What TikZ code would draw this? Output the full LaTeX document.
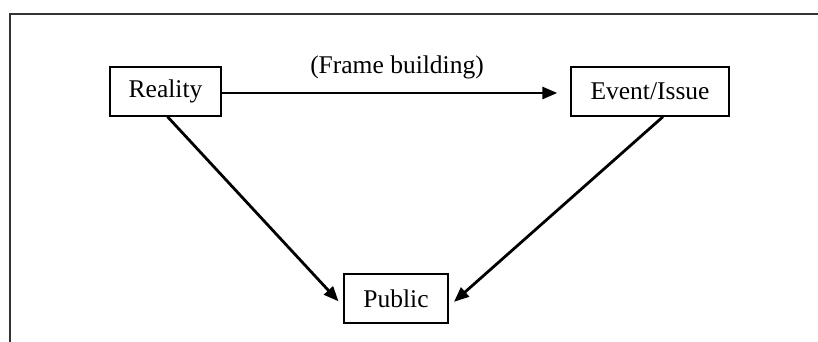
\documentclass[tikz,border=0pt]{standalone}
\usepackage{fontspec}
\setmainfont{Liberation Serif}
\usetikzlibrary{arrows.meta}
\begin{document}
\begin{tikzpicture}[x=1pt,y=-1pt,
  box/.style={draw, line width=1.4pt, minimum height=49pt, inner sep=0pt,
    font=\fontsize{25.5}{30}\selectfont},
  conn/.style={line width=2.8pt, -{Triangle[length=15pt,width=12pt]}},
  frameline/.style={line width=2pt, draw=black!80}]
\useasboundingbox (0,0) rectangle (818,342);
\draw[frameline] (10,342) -- (10,14) -- (818,14);
\node[box, minimum width=111pt] (reality) at (165.5,91.5) {Reality};
\node[box, minimum width=158pt] (event) at (650,91.5) {Event/Issue};
\node[box, minimum width=104pt] (public) at (396,298.5) {Public};
\node[font=\fontsize{25.5}{30}\selectfont] (label) at (397,67) {(Frame building)};
\draw[conn, shorten >=13pt] ([yshift=-1.5pt]reality.east) -- ([yshift=-1.5pt]event.west);
\draw[conn, shorten >=7pt] ([xshift=2pt]reality.south) -- ([yshift=-8pt]public.west);
\draw[conn, shorten >=7pt] ([xshift=13pt]event.south) -- ([yshift=-8pt]public.east);
\end{tikzpicture}
\end{document}
